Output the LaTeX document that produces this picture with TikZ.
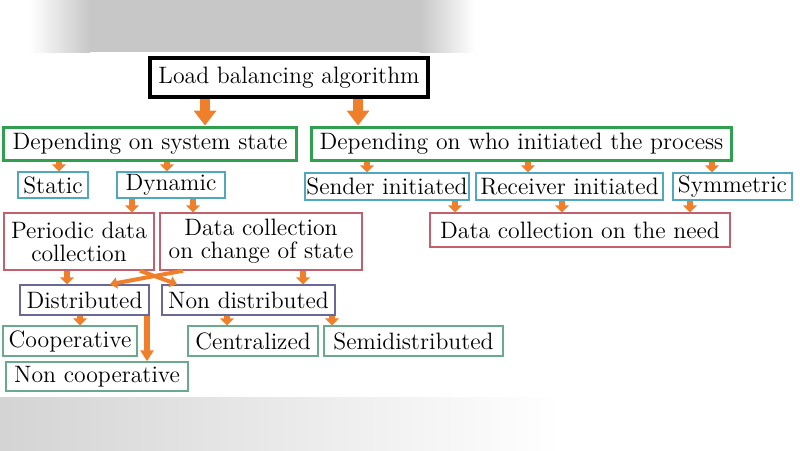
\documentclass[tikz,border=0pt]{standalone}
\definecolor{lbOrange}{HTML}{F07F2C}
\definecolor{lbGreen}{HTML}{2FA04E}
\definecolor{lbCyan}{HTML}{4FA8BE}
\definecolor{lbRed}{HTML}{C2616E}
\definecolor{lbSlate}{HTML}{6A6896}
\definecolor{lbSea}{HTML}{6AAA8C}
\usetikzlibrary{arrows.meta}

\begin{document}
\begin{tikzpicture}[x=0.02cm, y=-0.02cm,
  box/.style={draw, inner sep=0pt, font=\fontsize{13.5}{13}\selectfont, align=center},
  topbox/.style={box, draw=black, line width=0.07cm},
  mainbox/.style={box, draw=lbGreen, line width=0.06cm},
  kindbox/.style={box, draw=lbCyan, line width=0.03cm},
  collbox/.style={box, draw=lbRed, line width=0.03cm},
  distbox/.style={box, draw=lbSlate, line width=0.03cm},
  leafbox/.style={box, draw=lbSea, line width=0.03cm},
  bigarr/.style={lbOrange, line width=0.2cm, -{Triangle[width=0.44cm,length=0.3cm]}},
  stub/.style={lbOrange, line width=0.12cm, -{Triangle[width=0.28cm,length=0.14cm]}},
  thinarr/.style={lbOrange, line width=0.08cm, -{Triangle[width=0.22cm,length=0.14cm]}},
  longarr/.style={lbOrange, line width=0.12cm, -{Triangle[width=0.26cm,length=0.22cm]}}]
  \useasboundingbox (0,0) rectangle (800,450);
  % blurred bands above and below
  \fill[black!22] (90,0) rectangle (420,52);
  \shade[left color=white, right color=black!22] (30,0) rectangle (90,52);
  \shade[left color=black!22, right color=white] (420,0) rectangle (475,52);
  \shade[left color=black!17, right color=white] (0,397) rectangle (560,450);

  % root
  \node[topbox, minimum width=5.56cm, minimum height=0.78cm] (load) at (289,77.5) {Load balancing algorithm};
  % criteria
  \node[mainbox, minimum width=5.88cm, minimum height=0.66cm] (dss) at (150,143.5) {Depending on system state};
  \node[mainbox, minimum width=8.42cm, minimum height=0.66cm] (dwho) at (521.5,143.5) {Depending on who initiated the process};
  % kinds
  \node[kindbox, minimum width=1.4cm, minimum height=0.52cm] (static) at (53,185) {Static};
  \node[kindbox, minimum width=2.16cm, minimum height=0.52cm] (dynamic) at (171,185) {Dynamic};
  \node[kindbox, minimum width=3.28cm, minimum height=0.54cm] (sender) at (387,186.5) {Sender initiated};
  \node[kindbox, minimum width=3.74cm, minimum height=0.54cm] (receiver) at (569.5,186.5) {Receiver initiated};
  \node[kindbox, minimum width=2.38cm, minimum height=0.54cm] (symmetric) at (732.5,186.5) {Symmetric};
  % data collection
  \node[collbox, minimum width=6.0cm, minimum height=0.68cm] (need) at (580,230) {Data collection on the need};
  \node[collbox, minimum width=3.0cm, minimum height=1.14cm] (periodic) at (79,241.5) {Periodic data\\collection};
  \node[collbox, minimum width=4.04cm, minimum height=1.14cm] (change) at (261,241.5) {Data collection\\on change of state};
  % control
  \node[distbox, minimum width=2.58cm, minimum height=0.6cm] (distributed) at (84.5,300) {Distributed};
  \node[distbox, minimum width=3.46cm, minimum height=0.6cm] (nondist) at (248.5,300) {Non distributed};
  % leaves
  \node[leafbox, minimum width=2.68cm, minimum height=0.6cm] (coop) at (70,341) {Cooperative};
  \node[leafbox, minimum width=2.6cm, minimum height=0.6cm] (central) at (253,341) {Centralized};
  \node[leafbox, minimum width=3.58cm, minimum height=0.6cm] (semi) at (413.5,341) {Semidistributed};
  \node[leafbox, minimum width=3.64cm, minimum height=0.58cm] (noncoop) at (97,376.5) {Non cooperative};

  % arrows
  \foreach \x/\a/\b in {205/load/dss, 358/load/dwho}
    \draw[bigarr] (\a.south -| \x,0) -- (\b.north -| \x,0);
  \foreach \x/\a/\b in {59/dss/static, 167/dss/dynamic, 132/dynamic/periodic, 193/dynamic/change,
      367/dwho/sender, 528/dwho/receiver, 712/dwho/symmetric, 455/sender/need, 562/receiver/need,
      690/symmetric/need, 67/periodic/distributed, 303/change/nondist, 80/distributed/coop,
      227/nondist/central, 332/nondist/semi}
    \draw[stub] (\a.south -| \x,0) -- (\b.north -| \x,0);
  \draw[thinarr] (periodic.south -| 140,0) -- (nondist.north -| 177,0);
  \draw[thinarr] (change.south -| 183,0) -- (distributed.north -| 110,0);
  \draw[longarr] (distributed.south -| 147,0) -- (noncoop.north -| 147,0);
\end{tikzpicture}
\end{document}
